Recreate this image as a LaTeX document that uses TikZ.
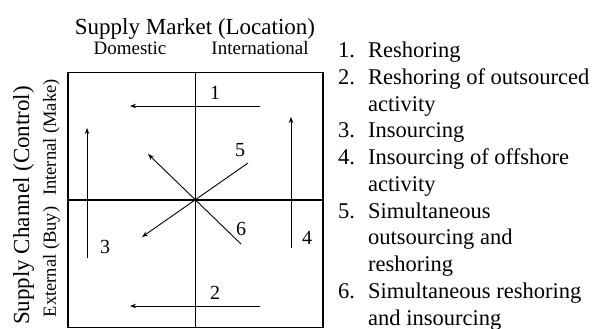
\documentclass[tikz,border=0pt]{standalone}
\usepackage{fontspec}
\setmainfont{Liberation Serif}
\usetikzlibrary{arrows.meta}
\begin{document}
\begin{tikzpicture}[x=1pt,y=-1pt,
  flow/.style={line width=0.9pt,-{Stealth[length=6pt,width=4.5pt]}},
  gridline/.style={line width=1.1pt},
  num/.style={font=\fontsize{20}{20}\selectfont,inner sep=0pt},
  leg/.style={font=\fontsize{22.5}{22.5}\selectfont,anchor=base west,inner sep=0pt},
  title/.style={font=\fontsize{23}{23}\selectfont,anchor=base,inner sep=0pt},
  sub/.style={font=\fontsize{19}{19}\selectfont,anchor=base,inner sep=0pt},
  vsub/.style={font=\fontsize{18.5}{18.5}\selectfont,anchor=base,inner sep=0pt,rotate=90}]
\useasboundingbox (0,0) rectangle (595,329);

% headings
\node[title] (top) at (195,34.3) {Supply Market (Location)};
\node[sub] (dom) at (130,55) {Domestic};
\node[sub] (intl) at (260,55) {International};
\node[title,rotate=90] (side) at (29,205.5) {Supply Channel (Control)};
\node[vsub] (make) at (56,137.5) {Internal (Make)};
\node[vsub] (buy) at (56,262) {External (Buy)};

% matrix box
\node[draw,gridline,minimum size=255pt,inner sep=0pt] (box) at (195.5,200) {};
\draw[gridline] (box.north) -- (box.south);
\draw[gridline] (box.west) -- (box.east);

% arrow end points
\coordinate (a1s) at (260,106); \coordinate (a1e) at (130,106);
\coordinate (a2s) at (260,306); \coordinate (a2e) at (130,306);
\coordinate (a3s) at (87,258);  \coordinate (a3e) at (87,128);
\coordinate (a4s) at (291,248); \coordinate (a4e) at (291,117);
\coordinate (a5s) at (248,163); \coordinate (a5e) at (142,237);
\coordinate (a6s) at (241,244); \coordinate (a6e) at (148,154);

\draw[flow] (a1s) -- (a1e);
\draw[flow] (a2s) -- (a2e);
\draw[flow] (a3s) -- (a3e);
\draw[flow] (a4s) -- (a4e);
\draw[flow] (a5s) -- (a5e);
\draw[flow] (a6s) -- (a6e);

\node[num] (n1) at (215,93) {1};
\node[num] (n2) at (215,293) {2};
\node[num] (n3) at (105,247) {3};
\node[num] (n4) at (307,238) {4};
\node[num] (n5) at (240,150) {5};
\node[num] (n6) at (241,229) {6};

% legend
\node[leg] (l1n) at (338,57.5) {1.};
\node[leg] (l1t) at (368,57.5) {Reshoring};
\node[leg] (l2n) at (338,84.25) {2.};
\node[leg] (l2t) at (368,84.25) {Reshoring of outsourced};
\node[leg] (l2u) at (368,111) {activity};
\node[leg] (l3n) at (338,137.75) {3.};
\node[leg] (l3t) at (368,137.75) {Insourcing};
\node[leg] (l4n) at (338,164.5) {4.};
\node[leg] (l4t) at (368,164.5) {Insourcing of offshore};
\node[leg] (l4u) at (368,191.25) {activity};
\node[leg] (l5n) at (338,218) {5.};
\node[leg] (l5t) at (368,218) {Simultaneous};
\node[leg] (l5u) at (368,244.75) {outsourcing and};
\node[leg] (l5v) at (368,271.5) {reshoring};
\node[leg] (l6n) at (338,298.25) {6.};
\node[leg] (l6t) at (368,298.25) {Simultaneous reshoring};
\node[leg] (l6u) at (368,325) {and insourcing};
\end{tikzpicture}
\end{document}
